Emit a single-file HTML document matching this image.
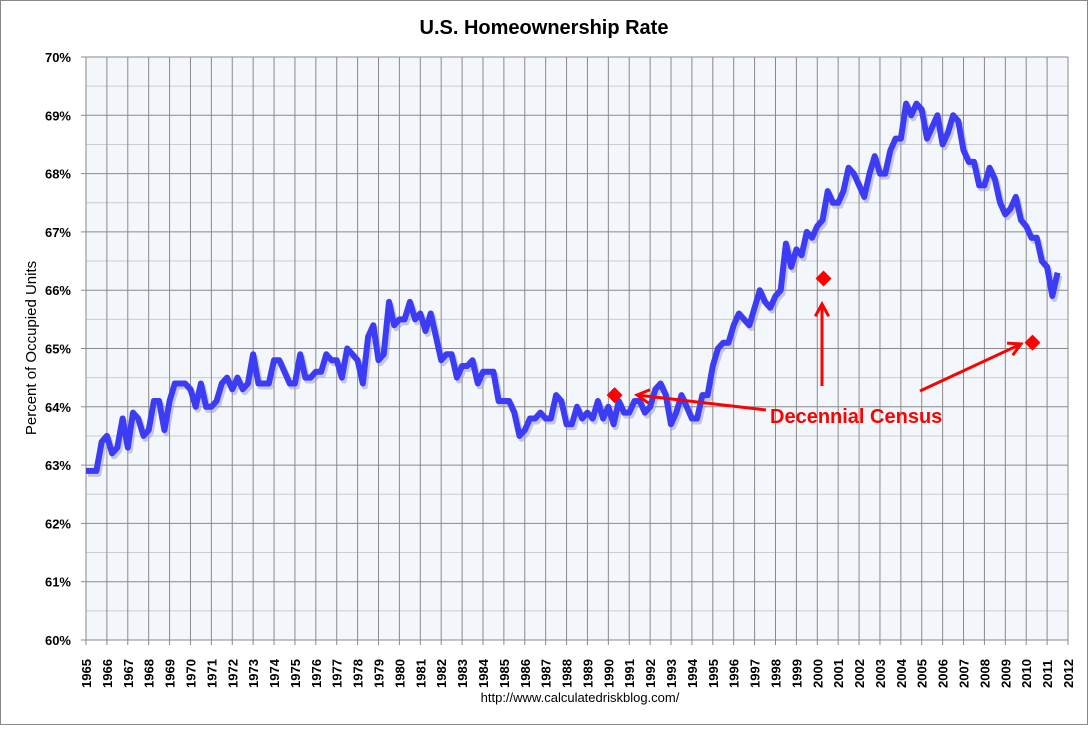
<!DOCTYPE html>
<html><head><meta charset="utf-8"><style>
body{margin:0;background:#fff;font-family:"Liberation Sans",sans-serif}
svg text{font-family:"Liberation Sans",sans-serif}
</style></head><body>
<svg id="chart" width="1088" height="725" xmlns="http://www.w3.org/2000/svg">
<rect x="0.5" y="0.5" width="1087" height="724" fill="#fff" stroke="#888"/>
<text x="544" y="34" text-anchor="middle" font-size="20" font-weight="bold">U.S. Homeownership Rate</text>
<text transform="translate(36,348) rotate(-90)" text-anchor="middle" font-size="15">Percent of Occupied Units</text>
<text x="580" y="702" text-anchor="middle" font-size="13">http://www.calculatedriskblog.com/</text>
<g id="grid"></g><g id="axes"></g><g id="series"></g><g id="annot"></g>
</svg>
<script>
const years=[1965,1966,1967,1968,1969,1970,1971,1972,1973,1974,1975,1976,1977,1978,1979,1980,1981,1982,1983,1984,1985,1986,1987,1988,1989,1990,1991,1992,1993,1994,1995,1996,1997,1998,1999,2000,2001,2002,2003,2004,2005,2006,2007,2008,2009,2010,2011,2012];
const yTicks=[60,61,62,63,64,65,66,67,68,69,70];
const rate=[62.9,62.9,62.9,63.4, 63.5,63.2,63.3,63.8, 63.3,63.9,63.8,63.5, 63.6,64.1,64.1,63.6, 64.1,64.4,64.4,64.4,
64.3,64.0,64.4,64.0, 64.0,64.1,64.4,64.5, 64.3,64.5,64.3,64.4, 64.9,64.4,64.4,64.4, 64.8,64.8,64.6,64.4,
64.4,64.9,64.5,64.5, 64.6,64.6,64.9,64.8, 64.8,64.5,65.0,64.9, 64.8,64.4,65.2,65.4, 64.8,64.9,65.8,65.4,
65.5,65.5,65.8,65.5, 65.6,65.3,65.6,65.2, 64.8,64.9,64.9,64.5, 64.7,64.7,64.8,64.4, 64.6,64.6,64.6,64.1,
64.1,64.1,63.9,63.5, 63.6,63.8,63.8,63.9, 63.8,63.8,64.2,64.1, 63.7,63.7,64.0,63.8, 63.9,63.8,64.1,63.8,
64.0,63.7,64.1,63.9, 63.9,64.1,64.1,63.9, 64.0,64.3,64.4,64.2, 63.7,63.9,64.2,64.0, 63.8,63.8,64.2,64.2,
64.7,65.0,65.1,65.1, 65.4,65.6,65.5,65.4, 65.7,66.0,65.8,65.7, 65.9,66.0,66.8,66.4, 66.7,66.6,67.0,66.9,
67.1,67.2,67.7,67.5, 67.5,67.7,68.1,68.0, 67.8,67.6,68.0,68.3, 68.0,68.0,68.4,68.6, 68.6,69.2,69.0,69.2,
69.1,68.6,68.8,69.0, 68.5,68.7,69.0,68.9, 68.4,68.2,68.2,67.8, 67.8,68.1,67.9,67.5, 67.3,67.4,67.6,67.2,
67.1,66.9,66.9,66.5, 66.4,65.9,66.3];
const censusYears=[1990.3,2000.3,2010.3];
const censusValues=[64.2,66.2,65.1];

const NS="http://www.w3.org/2000/svg";
const L=86,R=1068,T=57,B=640;
const xs=y=>L+(y-1965)*(R-L)/47;
const ys=v=>B-(v-60)*(B-T)/10;
function mk(tag,attrs,parent){const e=document.createElementNS(NS,tag);for(const k in attrs)e.setAttribute(k,attrs[k]);document.getElementById(parent).appendChild(e);return e;}

mk('rect',{x:L,y:T,width:R-L,height:B-T,fill:'#f3f6fb'},'grid');
for(let v=60;v<=70;v+=0.5){
  const l=mk('line',{x1:L,x2:R,y1:ys(v),y2:ys(v),stroke:Number.isInteger(v)?'#8a8a8a':'#c9ccd2','stroke-width':1},'grid');
  
  
}
years.forEach(y=>{
  const l=mk('line',{x1:xs(y),x2:xs(y),y1:T,y2:B+5,stroke:'#8a8a8a','stroke-width':1},'grid');
  
  
  const t=mk('text',{transform:`translate(${xs(y)+5},${B+48}) rotate(-90)`,'font-size':13,'font-weight':'bold'},'axes');
  t.textContent=y;
  
  
});
yTicks.forEach(v=>{
  const t=mk('text',{x:71,y:ys(v)+5,'text-anchor':'end','font-size':13,'font-weight':'bold'},'axes');
  t.textContent=v+'%';
  
  
  mk('line',{x1:L-5,x2:L,y1:ys(v),y2:ys(v),stroke:'#8a8a8a'},'axes');
});
mk('line',{x1:L,x2:L,y1:T,y2:B,stroke:'#888'},'axes');
mk('line',{x1:L,x2:R,y1:B,y2:B,stroke:'#888'},'axes');

const pts=rate.map((v,i)=>`${xs(1965+i/4).toFixed(1)},${ys(v).toFixed(1)}`).join(' ');
const sh=mk('polyline',{points:pts,fill:'none',stroke:'#9a9ab8','stroke-width':6,'stroke-opacity':0.5,'stroke-linejoin':'round',transform:'translate(2,3)'},'series');


const pl=mk('polyline',{points:pts,fill:'none',stroke:'#3c3cf5','stroke-width':6,'stroke-linejoin':'round'},'series');



censusYears.forEach((y,i)=>{
  const cx=xs(y),cy=ys(censusValues[i]);
  const d=mk('polygon',{points:`${cx},${cy-8} ${cx+8},${cy} ${cx},${cy+8} ${cx-8},${cy}`,fill:'#f00'},'annot');
  
  
});
function arrow(x1,y1,x2,y2){
  const g=mk('g',{},'annot');
  
  
  const a=Math.atan2(y2-y1,x2-x1),h=14;
  const l=document.createElementNS(NS,'line');
  [['x1',x1],['y1',y1],['x2',x2],['y2',y2],['stroke','#f00'],['stroke-width',3]].forEach(([k,v])=>l.setAttribute(k,v));
  g.appendChild(l);
  const p=document.createElementNS(NS,'polyline');
  p.setAttribute('points',`${x2-h*Math.cos(a-0.5)},${y2-h*Math.sin(a-0.5)} ${x2},${y2} ${x2-h*Math.cos(a+0.5)},${y2-h*Math.sin(a+0.5)}`);
  p.setAttribute('fill','none');p.setAttribute('stroke','#f00');p.setAttribute('stroke-width',3);
  g.appendChild(p);
}
arrow(766,410,637,395);
arrow(822,386,822,304);
arrow(920,391,1021,344);
const tx=mk('text',{x:770,y:423,'font-size':20,'font-weight':'bold',fill:'#f00'},'annot');
tx.textContent='Decennial Census';


</script>
</body></html>
